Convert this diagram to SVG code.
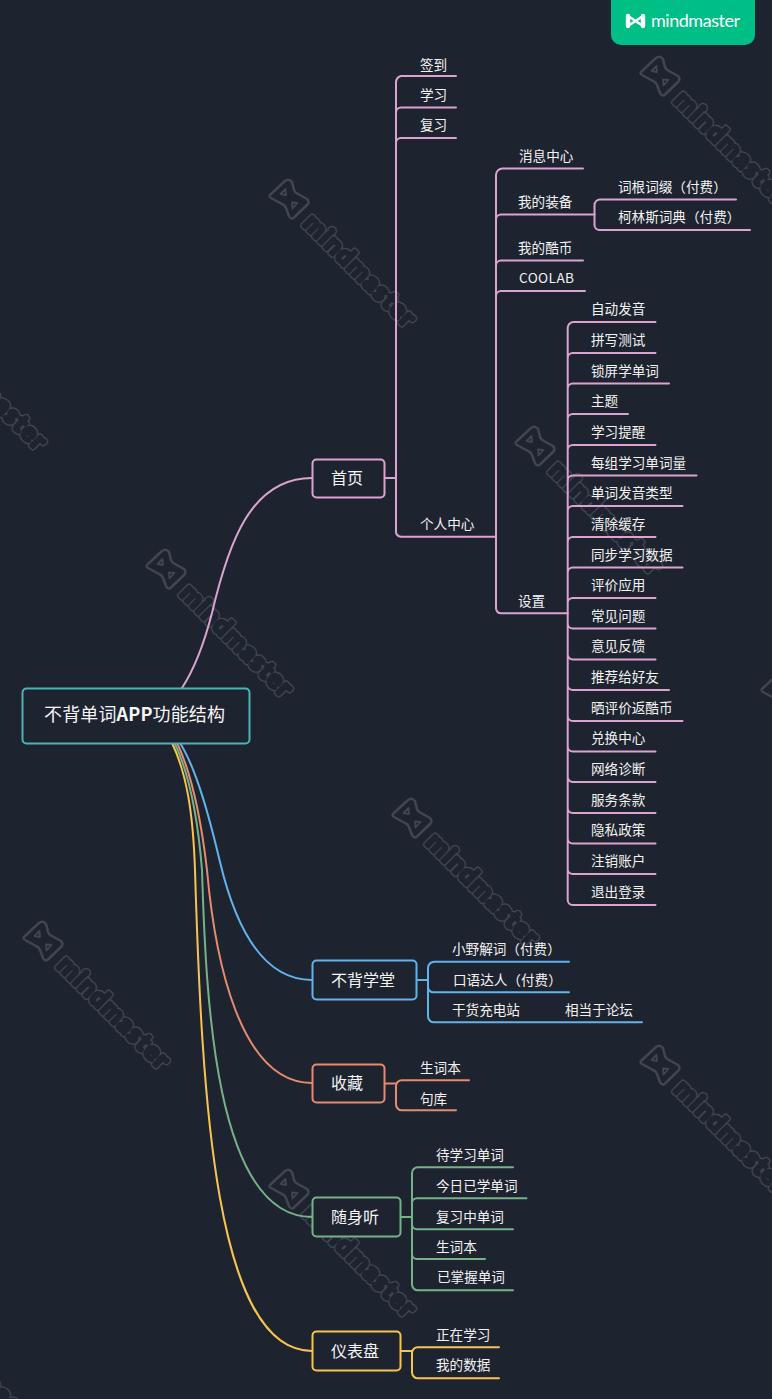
<svg xmlns="http://www.w3.org/2000/svg" width="772" height="1399" viewBox="0 0 772 1399">
<style>
.t{font-family:"Noto Sans CJK SC","Noto Sans",sans-serif;font-size:13.6px;fill:#f2f2f2}
.n{font-family:"Noto Sans CJK SC","Noto Sans",sans-serif;font-size:16px;fill:#f5f5f5;text-anchor:middle}
.l{fill:none;stroke-width:2;stroke-linecap:round;stroke-linejoin:round}
.b{fill:#1e2330;stroke-width:2}
.p{stroke:#dba4d0}.u{stroke:#62b2ec}.o{stroke:#e68b6f}.g{stroke:#74b386}.y{stroke:#f7c44f}
.wl{font-family:"Lato",sans-serif;font-size:25.5px;font-weight:700;letter-spacing:1.300px;stroke-linejoin:round}
.w1{fill:none;stroke:#40454f;stroke-width:6}
.w2{fill:#1e2330;stroke:#1e2330;stroke-width:3.200}
</style>
<defs>
<g id="wm">
<path d="M-18,-5 L-4,-18 Q0,-21 3,-17 L5,-9 Q6,-6 9,-5 L18,0 Q21,3 18,6 L5,18.500 Q2,21 0,17 L-3,9 Q-4,6 -7,5 L-18,-1 Q-21,-3 -18,-5Z" fill="none" stroke="#40454f" stroke-width="2.500" stroke-linejoin="round"/>
<path d="M-8.500,-5 L-3.500,-10 L-3,-4Z M8.500,4 L3.500,9.500 L3,3.500Z" fill="none" stroke="#40454f" stroke-width="1.800" stroke-linejoin="round"/>
<g transform="rotate(45)"><text class="wl w1" x="27" y="9">mindmaster</text>
<text class="wl w2" x="27" y="9">mindmaster</text></g>
</g>
</defs>
<rect width="772" height="1399" fill="#1e2330"/>
<g id="watermarks">
<use href="#wm" transform="translate(289,199)"/>
<use href="#wm" transform="translate(660,76)"/>
<use href="#wm" transform="translate(535,446)"/>
<use href="#wm" transform="translate(166,569)"/>
<use href="#wm" transform="translate(412,818)"/>
<use href="#wm" transform="translate(43,941)"/>
<use href="#wm" transform="translate(660,1065)"/>
<use href="#wm" transform="translate(289,1189)"/>
<use href="#wm" transform="translate(-80,322)"/>
<use href="#wm" transform="translate(781,693)"/>
<use href="#wm" transform="translate(-80,1311)"/>
</g>
<g id="brand">
<path d="M611,-10H755V35a10,10 0 0 1 -10,10H621a10,10 0 0 1 -10,-10Z" fill="#00bf86"/>
<path d="M628,16V26M643,16V26" fill="none" stroke="#fff" stroke-width="4.400" stroke-linecap="round"/>
<path d="M628,16L643,26M643,16L628,26" fill="none" stroke="#fff" stroke-width="2.600" stroke-linecap="round"/>
<text x="651" y="27" font-family="Lato,sans-serif" font-size="18" font-weight="400" fill="#fff" textLength="89">mindmaster</text>
</g>
<g id="connectors" class="l">
<path class="l p" d="M182,688C195,668 205,640 212,613C228,545 250,478 312,478"/>
<path class="l y" d="M172,743C186,772 193,810 195,870C202,1100 215,1351 312,1351"/>
<path class="l g" d="M174.500,743C190,775 198,820 202,870C206,1000 215,1217 312,1217"/>
<path class="l o" d="M177,743C190,770 200,810 207,870C215,960 240,1083 312,1083"/>
<path class="l u" d="M180,743C197,770 210,820 220,862C235,925 262,980 312,980"/>
<path class="l p" d="M385,478H396M401,76H456M396,83V531a5,5 0 0 0 5,5.700H496M396,83a7,7 0 0 1 5,-7M396,112.500a5,5 0 0 1 5,-5H456M396,143a5,5 0 0 1 5,-5H456"/>
<path class="l p" d="M496,175V608a5,5 0 0 0 5,5.300H567.700M496,175a6.500,6.500 0 0 1 6.500,-6.500H583M496,219.500a5,5 0 0 1 5,-5H594.500M496,265.500a5,5 0 0 1 5,-5H583M496,296a5,5 0 0 1 5,-5H585"/>
<path class="l p" d="M594.500,205V225a5,5 0 0 0 5,5H750M594.500,205a5.500,5.500 0 0 1 5.500,-5.500H736"/>
<path class="l p" d="M567.700,328V900a5,5 0 0 0 5,5H655.500M567.700,328a6,6 0 0 1 6,-6H655.500M567.700,358a5,5 0 0 1 5,-5H655.500M567.700,388.500a5,5 0 0 1 5,-5H669M567.700,419a5,5 0 0 1 5,-5H628M567.700,450a5,5 0 0 1 5,-5H655.500M567.700,480.500a5,5 0 0 1 5,-5H696.500M567.700,511a5,5 0 0 1 5,-5H682.500M567.700,542a5,5 0 0 1 5,-5H655.500M567.700,572.500a5,5 0 0 1 5,-5H682.500M567.700,603a5,5 0 0 1 5,-5H655.500M567.700,623.500a5,5 0 0 0 5,5H655.500M567.700,654.500a5,5 0 0 0 5,5H655.500M567.700,685a5,5 0 0 0 5,5H669M567.700,716a5,5 0 0 0 5,5H682.500M567.700,746.500a5,5 0 0 0 5,5H655.500M567.700,777a5,5 0 0 0 5,5H655.500M567.700,808a5,5 0 0 0 5,5H655.500M567.700,838.500a5,5 0 0 0 5,5H655.500M567.700,869a5,5 0 0 0 5,5H655.500"/>
<path class="l u" d="M417,980H428M428,968V1016a6,6 0 0 0 6,6.300H642M428,968a6.300,6.300 0 0 1 6.300,-6.300H569M428,987a5.300,5.300 0 0 0 5.300,5.300H569"/>
<path class="l o" d="M385,1083.500H396M396,1086V1104a6,6 0 0 0 6,6.300H456M396,1086a5.700,5.700 0 0 1 5.700,-5.700H469"/>
<path class="l g" d="M401,1217H412M412,1173V1284a6,6 0 0 0 6,6.300H513M412,1173a5.700,5.700 0 0 1 5.700,-5.700H513M412,1203.300a5,5 0 0 1 5,-5H526.500M412,1224.300a5,5 0 0 0 5,5H513M412,1254a5,5 0 0 0 5,5H485"/>
<path class="l y" d="M401,1351H412M412,1353V1372a6,6 0 0 0 6,6.300H499M412,1353a5.700,5.700 0 0 1 5.700,-5.700H499"/>
</g>
<g id="root"><rect x="22.500" y="688.500" width="227" height="55" rx="4" fill="#1e2330" stroke="#4cb3b3" stroke-width="2"/><text x="44" y="721" textLength="181" font-family="Noto Sans CJK SC,sans-serif" font-size="18" fill="#f5f5f5">不背单词<tspan font-weight="600">APP</tspan>功能结构</text></g>
<g id="n-home"><rect class="b p" x="312.500" y="459.500" width="72" height="38" rx="4"/><text class="n" x="347" y="484">首页</text></g>
<g id="n-xuetang"><rect class="b u" x="312.500" y="960.500" width="104" height="39" rx="4"/><text class="n" x="363" y="986">不背学堂</text></g>
<g id="n-fav"><rect class="b o" x="312.500" y="1064.500" width="72" height="38" rx="4"/><text class="n" x="347" y="1089">收藏</text></g>
<g id="n-listen"><rect class="b g" x="312.500" y="1197.500" width="88" height="39" rx="4"/><text class="n" x="355" y="1223">随身听</text></g>
<g id="n-dash"><rect class="b y" x="312.500" y="1331.500" width="88" height="39" rx="4"/><text class="n" x="355" y="1357">仪表盘</text></g>
<g id="leaves">
<text class="t" x="420" y="70">签到</text><text class="t" x="420" y="100">学习</text><text class="t" x="420" y="130">复习</text>
<text class="t" x="519" y="161">消息中心</text><text class="t" x="518" y="207">我的装备</text><text class="t" x="618" y="192">词根词缀（付费）</text><text class="t" x="618" y="222">柯林斯词典（付费）</text><text class="t" x="518" y="253">我的酷币</text><text class="t" x="519" y="283" textLength="55">COOLAB</text>
<text class="t" x="420" y="529">个人中心</text><text class="t" x="518" y="606">设置</text>
<text class="t" x="591" y="314">自动发音</text><text class="t" x="591" y="345">拼写测试</text><text class="t" x="591" y="376">锁屏学单词</text><text class="t" x="591" y="406">主题</text><text class="t" x="591" y="437">学习提醒</text><text class="t" x="591" y="468">每组学习单词量</text><text class="t" x="591" y="498">单词发音类型</text><text class="t" x="591" y="529">清除缓存</text><text class="t" x="591" y="560">同步学习数据</text><text class="t" x="591" y="590">评价应用</text><text class="t" x="591" y="621">常见问题</text><text class="t" x="591" y="651">意见反馈</text><text class="t" x="591" y="682">推荐给好友</text><text class="t" x="591" y="713">晒评价返酷币</text><text class="t" x="591" y="743">兑换中心</text><text class="t" x="591" y="774">网络诊断</text><text class="t" x="591" y="805">服务条款</text><text class="t" x="591" y="835">隐私政策</text><text class="t" x="591" y="866">注销账户</text><text class="t" x="591" y="897">退出登录</text>
<text class="t" x="452" y="954">小野解词（付费）</text><text class="t" x="453" y="985">口语达人（付费）</text><text class="t" x="452" y="1015">干货充电站</text><text class="t" x="565" y="1015">相当于论坛</text>
<text class="t" x="420" y="1073">生词本</text><text class="t" x="420" y="1104">句库</text>
<text class="t" x="436" y="1160">待学习单词</text><text class="t" x="436" y="1191">今日已学单词</text><text class="t" x="436" y="1222">复习中单词</text><text class="t" x="436" y="1252">生词本</text><text class="t" x="437" y="1282">已掌握单词</text>
<text class="t" x="436" y="1340">正在学习</text><text class="t" x="436" y="1370">我的数据</text>
</g>
</svg>
